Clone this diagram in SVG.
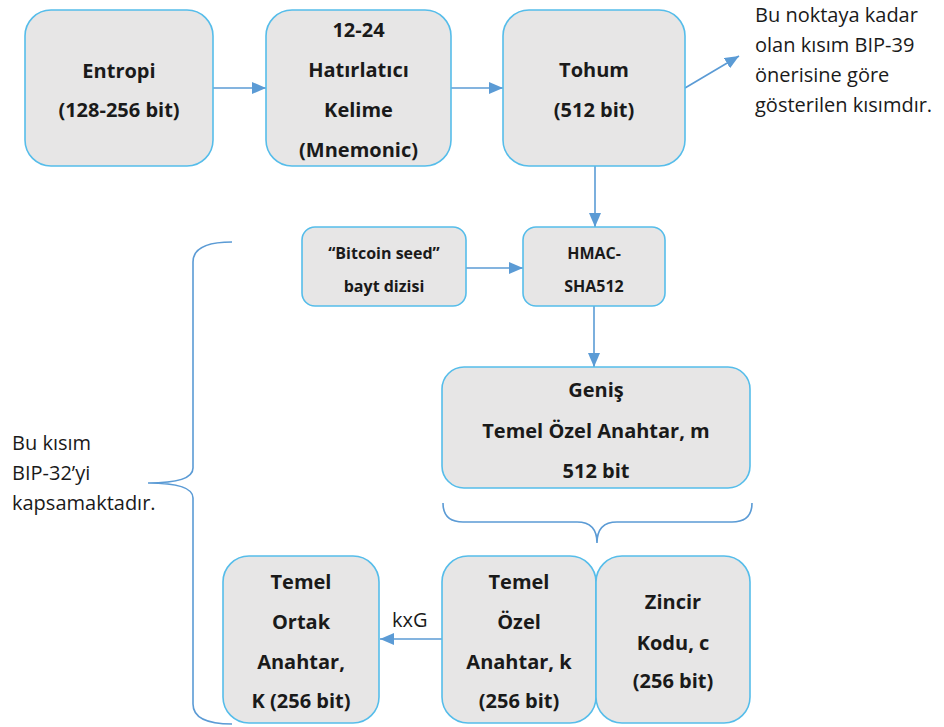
<svg xmlns="http://www.w3.org/2000/svg" width="944" height="727" viewBox="0 0 944 727">
<defs>
<marker id="ah" markerUnits="userSpaceOnUse" markerWidth="15" markerHeight="12" refX="14" refY="6" orient="auto">
<path d="M0,0 L14,6 L0,12 z" fill="#5B9BD5"/>
</marker>
<style>
.box{fill:#E7E6E6;stroke:#56BDEA;stroke-width:1.6}
.lbl{font-family:"Open Sans","Liberation Sans",sans-serif;font-weight:bold;font-size:20px;fill:#1a1a1a;text-anchor:middle}
.sm{font-size:16px}
.note{font-family:"Open Sans","Liberation Sans",sans-serif;font-size:20px;fill:#1a1a1a}
.con{stroke:#5B9BD5;stroke-width:1.6;fill:none}
.arr{marker-end:url(#ah)}
</style>
</defs>
<rect width="944" height="727" fill="#ffffff"/>

<g id="connectors">
<line class="con arr" x1="213" y1="88" x2="266" y2="88"/>
<line class="con arr" x1="451" y1="88" x2="503" y2="88"/>
<line class="con arr" x1="685" y1="88" x2="739" y2="56"/>
<line class="con arr" x1="595" y1="166" x2="595" y2="227"/>
<line class="con arr" x1="466" y1="268" x2="523" y2="268"/>
<line class="con arr" x1="594" y1="306" x2="594" y2="367"/>
<line class="con arr" x1="442" y1="639" x2="380" y2="639"/>
<path class="con" d="M443,503 Q443,522 463,522 L577,522 Q597,522 597,543 Q597,522 617,522 L732,522 Q752,522 752,503"/>
<path class="con" d="M232,242 Q193,242 193,262 L193,468 Q193,483 148,483 Q193,483 193,498 L193,704 Q193,724 232,724"/>
<text class="note" x="392" y="627">kxG</text>
</g>

<g id="entropi">
<rect class="box" x="25" y="10" width="188" height="156" rx="26"/>
<text class="lbl" x="119" y="78">Entropi</text>
<text class="lbl" x="119" y="117">(128-256 bit)</text>
</g>

<g id="mnemonic">
<rect class="box" x="266" y="10" width="185" height="156" rx="26"/>
<text class="lbl" x="358.5" y="37">12-24</text>
<text class="lbl" x="358.5" y="77">Hatırlatıcı</text>
<text class="lbl" x="358.5" y="117">Kelime</text>
<text class="lbl" x="358.5" y="157">(Mnemonic)</text>
</g>

<g id="tohum">
<rect class="box" x="503" y="10" width="182" height="156" rx="26"/>
<text class="lbl" x="594" y="77">Tohum</text>
<text class="lbl" x="594" y="117">(512 bit)</text>
</g>

<g id="note-bip39">
<text class="note" x="755" y="22">Bu noktaya kadar</text>
<text class="note" x="755" y="52">olan kısım BIP-39</text>
<text class="note" x="755" y="82">önerisine göre</text>
<text class="note" x="755" y="112">gösterilen kısımdır.</text>
</g>

<g id="bitcoin-seed">
<rect class="box" x="302" y="227" width="164" height="79" rx="13"/>
<text class="lbl sm" x="384" y="259">“Bitcoin seed”</text>
<text class="lbl sm" x="384" y="292">bayt dizisi</text>
</g>

<g id="hmac">
<rect class="box" x="523" y="227" width="142" height="79" rx="13"/>
<text class="lbl sm" x="594" y="259">HMAC-</text>
<text class="lbl sm" x="594" y="292">SHA512</text>
</g>

<g id="genis">
<rect class="box" x="442" y="367" width="308" height="121" rx="22"/>
<text class="lbl" x="596" y="397">Geniş</text>
<text class="lbl" x="596" y="438">Temel Özel Anahtar, m</text>
<text class="lbl" x="596" y="478">512 bit</text>
</g>

<g id="note-bip32">
<text class="note" x="12" y="450">Bu kısım</text>
<text class="note" x="12" y="480">BIP-32’yi</text>
<text class="note" x="12" y="510">kapsamaktadır.</text>
</g>

<g id="ortak">
<rect class="box" x="223" y="556" width="156" height="167" rx="26"/>
<text class="lbl" x="301" y="589">Temel</text>
<text class="lbl" x="301" y="629">Ortak</text>
<text class="lbl" x="301" y="669">Anahtar,</text>
<text class="lbl" x="301" y="708">K (256 bit)</text>
</g>

<g id="ozel">
<rect class="box" x="442" y="556" width="154" height="167" rx="26"/>
<text class="lbl" x="519" y="589">Temel</text>
<text class="lbl" x="519" y="629">Özel</text>
<text class="lbl" x="519" y="669">Anahtar, k</text>
<text class="lbl" x="519" y="708">(256 bit)</text>
</g>

<g id="zincir">
<rect class="box" x="596" y="556" width="154" height="167" rx="26"/>
<text class="lbl" x="673" y="609">Zincir</text>
<text class="lbl" x="673" y="650">Kodu, c</text>
<text class="lbl" x="673" y="688">(256 bit)</text>
</g>
</svg>
